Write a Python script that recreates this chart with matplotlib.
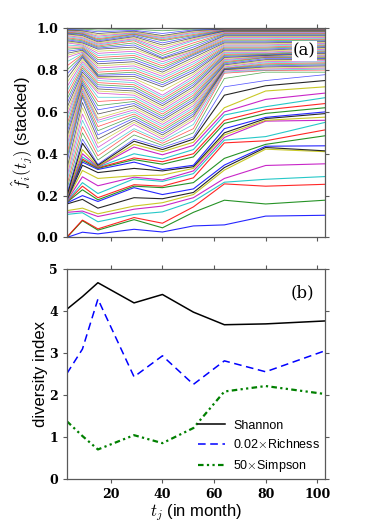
import matplotlib
matplotlib.use("Agg")
import matplotlib.pyplot as plt
import numpy as np

plt.rcParams['mathtext.fontset'] = 'cm'
plt.rcParams['font.family'] = ['Liberation Sans', 'DejaVu Sans']

# sampling times (month)
t_month = [3, 9, 15, 29, 40, 52, 64, 80, 103]

# cumulative (stacked) relative abundance, one list per sampling time,
# read from bottom line to top line
cum_t03 = [0.000, 0.000, 0.002, 0.110, 0.120, 0.128, 0.160, 0.165, 0.168, 0.170,
           0.172, 0.175, 0.178, 0.180, 0.182, 0.185, 0.188, 0.190, 0.193, 0.196, 0.200,
           0.21, 0.23, 0.25, 0.27, 0.29, 0.31, 0.33, 0.36, 0.38, 0.40,
           0.42, 0.44, 0.46, 0.48, 0.50, 0.52, 0.54, 0.56, 0.58, 0.60,
           0.62, 0.64, 0.66, 0.68, 0.70, 0.72, 0.74, 0.76, 0.78, 0.80,
           0.82, 0.84, 0.86, 0.87, 0.88, 0.89, 0.90, 0.91, 0.92, 0.93,
           0.935, 0.94, 0.945, 0.95, 0.955, 0.96, 0.965, 0.97, 0.973, 0.976,
           0.979, 0.982, 0.985, 0.988, 0.99, 0.992, 0.995, 0.998, 1.0]
cum_t09 = [0.025, 0.080, 0.083, 0.118, 0.126, 0.140, 0.182, 0.200, 0.228, 0.245,
           0.262, 0.290, 0.320, 0.345, 0.360, 0.368, 0.375, 0.385, 0.400, 0.420, 0.450,
           0.47, 0.50, 0.53, 0.56, 0.59, 0.62, 0.645, 0.67, 0.68, 0.69,
           0.70, 0.71, 0.72, 0.73, 0.74, 0.75, 0.76, 0.77, 0.775, 0.78,
           0.79, 0.80, 0.81, 0.82, 0.83, 0.84, 0.85, 0.86, 0.865, 0.87,
           0.875, 0.88, 0.885, 0.89, 0.895, 0.90, 0.905, 0.91, 0.915, 0.92,
           0.925, 0.93, 0.935, 0.94, 0.945, 0.95, 0.955, 0.96, 0.965, 0.97,
           0.973, 0.976, 0.979, 0.982, 0.985, 0.988, 0.992, 0.996, 1.0]
cum_t15 = [0.017, 0.035, 0.041, 0.075, 0.100, 0.113, 0.140, 0.172, 0.180, 0.190,
           0.210, 0.247, 0.282, 0.310, 0.325, 0.330, 0.333, 0.336, 0.338, 0.340, 0.345,
           0.35, 0.37, 0.39, 0.41, 0.43, 0.45, 0.47, 0.49, 0.51, 0.53,
           0.55, 0.56, 0.57, 0.59, 0.61, 0.63, 0.65, 0.67, 0.69, 0.70,
           0.71, 0.72, 0.73, 0.74, 0.75, 0.76, 0.765, 0.77, 0.775, 0.78,
           0.79, 0.80, 0.81, 0.82, 0.83, 0.84, 0.85, 0.86, 0.87, 0.88,
           0.89, 0.90, 0.905, 0.91, 0.915, 0.92, 0.925, 0.93, 0.935, 0.94,
           0.945, 0.95, 0.956, 0.962, 0.968, 0.975, 0.983, 0.991, 1.0]
cum_t29 = [0.039, 0.085, 0.095, 0.110, 0.135, 0.150, 0.190, 0.238, 0.245, 0.252,
           0.280, 0.288, 0.295, 0.330, 0.360, 0.372, 0.380, 0.400, 0.432, 0.445, 0.460,
           0.47, 0.49, 0.51, 0.52, 0.54, 0.55, 0.56, 0.57, 0.58, 0.59,
           0.60, 0.61, 0.62, 0.63, 0.64, 0.65, 0.66, 0.67, 0.68, 0.69,
           0.70, 0.71, 0.72, 0.73, 0.74, 0.75, 0.76, 0.77, 0.78, 0.79,
           0.80, 0.81, 0.82, 0.83, 0.84, 0.85, 0.86, 0.87, 0.88, 0.89,
           0.90, 0.91, 0.92, 0.93, 0.94, 0.945, 0.95, 0.955, 0.96, 0.965,
           0.97, 0.973, 0.976, 0.979, 0.982, 0.986, 0.99, 0.995, 1.0]
cum_t40 = [0.026, 0.046, 0.068, 0.122, 0.150, 0.166, 0.185, 0.205, 0.238, 0.245,
           0.268, 0.275, 0.298, 0.318, 0.325, 0.350, 0.362, 0.375, 0.395, 0.410, 0.420,
           0.43, 0.44, 0.45, 0.46, 0.47, 0.48, 0.49, 0.50, 0.51, 0.52,
           0.53, 0.54, 0.55, 0.56, 0.57, 0.58, 0.59, 0.60, 0.61, 0.62,
           0.63, 0.64, 0.65, 0.66, 0.67, 0.68, 0.70, 0.72, 0.73, 0.74,
           0.75, 0.76, 0.77, 0.78, 0.79, 0.80, 0.81, 0.82, 0.83, 0.84,
           0.85, 0.855, 0.86, 0.87, 0.88, 0.89, 0.90, 0.91, 0.92, 0.93,
           0.94, 0.945, 0.95, 0.955, 0.96, 0.965, 0.975, 0.988, 1.0]
cum_t52 = [0.055, 0.120, 0.146, 0.172, 0.190, 0.205, 0.215, 0.232, 0.262, 0.285,
           0.305, 0.318, 0.330, 0.338, 0.345, 0.385, 0.400, 0.420, 0.440, 0.455, 0.470,
           0.48, 0.50, 0.52, 0.54, 0.56, 0.57, 0.58, 0.59, 0.60, 0.61,
           0.62, 0.63, 0.64, 0.65, 0.66, 0.67, 0.68, 0.69, 0.70, 0.71,
           0.72, 0.73, 0.74, 0.75, 0.76, 0.77, 0.78, 0.79, 0.80, 0.81,
           0.82, 0.83, 0.84, 0.85, 0.86, 0.87, 0.875, 0.88, 0.885, 0.89,
           0.895, 0.90, 0.91, 0.92, 0.93, 0.94, 0.945, 0.95, 0.955, 0.96,
           0.965, 0.97, 0.975, 0.98, 0.984, 0.988, 0.992, 0.996, 1.0]
cum_t64 = [0.060, 0.178, 0.256, 0.264, 0.282, 0.322, 0.334, 0.346, 0.378, 0.452,
           0.465, 0.478, 0.490, 0.500, 0.520, 0.545, 0.560, 0.585, 0.600, 0.620,
           0.680, 0.720, 0.760, 0.785,
           0.79, 0.795, 0.80, 0.802, 0.804, 0.806, 0.808, 0.81, 0.815, 0.82,
           0.825, 0.83, 0.835, 0.84, 0.845, 0.85, 0.855, 0.86, 0.865, 0.87,
           0.875, 0.88, 0.885, 0.89, 0.895, 0.90, 0.905, 0.91, 0.915, 0.92,
           0.925, 0.93, 0.935, 0.94, 0.945, 0.95, 0.955, 0.96, 0.964, 0.968,
           0.972, 0.975, 0.978, 0.981, 0.984, 0.986, 0.988, 0.99, 0.992, 0.994,
           0.995, 0.996, 0.997, 0.998, 0.999, 1.0]
cum_t80 = [0.102, 0.160, 0.245, 0.278, 0.344, 0.422, 0.430, 0.436, 0.445, 0.462,
           0.482, 0.556, 0.560, 0.568, 0.574, 0.593, 0.610, 0.625, 0.660, 0.700,
           0.725, 0.750, 0.790, 0.798,
           0.80, 0.805, 0.81, 0.815, 0.82, 0.825, 0.83, 0.835, 0.84, 0.845,
           0.85, 0.855, 0.86, 0.862, 0.864, 0.866, 0.868, 0.87, 0.872, 0.875,
           0.878, 0.88, 0.885, 0.89, 0.895, 0.90, 0.905, 0.91, 0.915, 0.92,
           0.925, 0.93, 0.935, 0.94, 0.945, 0.95, 0.955, 0.96, 0.964, 0.968,
           0.972, 0.975, 0.978, 0.981, 0.984, 0.986, 0.988, 0.99, 0.992, 0.994,
           0.995, 0.996, 0.997, 0.998, 0.999, 1.0]
cum_t103 = [0.106, 0.178, 0.254, 0.291, 0.352, 0.410, 0.414, 0.438, 0.486, 0.514,
            0.550, 0.560, 0.575, 0.592, 0.600, 0.620, 0.640, 0.668, 0.690, 0.720,
            0.750, 0.778, 0.790, 0.800,
            0.805, 0.81, 0.815, 0.82, 0.825, 0.83, 0.835, 0.84, 0.845, 0.85,
            0.853, 0.856, 0.86, 0.864, 0.868, 0.872, 0.876, 0.88, 0.884, 0.888,
            0.892, 0.896, 0.90, 0.904, 0.908, 0.912, 0.916, 0.92, 0.924, 0.928,
            0.932, 0.936, 0.94, 0.944, 0.948, 0.952, 0.956, 0.96, 0.964, 0.968,
            0.972, 0.975, 0.978, 0.981, 0.984, 0.986, 0.988, 0.99, 0.992, 0.994,
            0.995, 0.996, 0.997, 0.998, 0.999, 1.0]

# diversity indices
shannon = [4.05, 4.35, 4.68, 4.20, 4.40, 3.98, 3.68, 3.70, 3.77]
richness_scaled = [2.52, 3.10, 4.29, 2.44, 2.94, 2.26, 2.82, 2.56, 3.06]
simpson_scaled = [1.38, 1.03, 0.71, 1.05, 0.86, 1.22, 2.09, 2.22, 2.03]

line_colors = ['b', 'g', 'r', 'c', 'm', 'y', 'k']

cum = np.array([cum_t03, cum_t09, cum_t15, cum_t29, cum_t40,
                cum_t52, cum_t64, cum_t80, cum_t103]).T

fig = plt.figure(figsize=(3.74, 5.23), dpi=100)
ax1 = fig.add_axes([0.179, 0.546, 0.690, 0.400])
ax2 = fig.add_axes([0.179, 0.0836, 0.690, 0.4015])

for i, row in enumerate(cum):
    if i < 21:
        ax1.plot(t_month, row, color=line_colors[i % 7], lw=0.8, alpha=0.85)
    else:
        ax1.plot(t_month, row, color=line_colors[i % 7], lw=0.55, alpha=0.65)

ax2.plot(t_month, shannon, color='k', lw=1.1, label='Shannon')
ax2.plot(t_month, richness_scaled, color='b', lw=1.1, ls=(0, (5, 3)),
         label=r'0.02$\times$Richness')
ax2.plot(t_month, simpson_scaled, color='g', lw=1.6,
         ls=(0, (2.5, 1.5, 1, 1.5, 1, 1.5)), label=r'50$\times$Simpson')

for ax in (ax1, ax2):
    ax.set_xlim(3, 103)
    ax.set_xticks([20, 40, 60, 80, 100])
    ax.tick_params(direction='out', length=3, width=0.8, top=True, right=True,
                   labelsize=9, colors='0.35', labelcolor='k')
    for s in ax.spines.values():
        s.set_color('0.35')
        s.set_linewidth(0.9)

ax1.set_ylim(0, 1)
ax1.set_yticks([0, 0.2, 0.4, 0.6, 0.8, 1.0])
ax1.set_yticklabels(['%.1f' % v for v in ax1.get_yticks()])
ax1.set_xticklabels([])
ax1.set_ylabel(r'$\hat{f}_i(t_j)$ (stacked)', fontsize=12, labelpad=1)
ax1.text(0.965, 0.89, '(a)', transform=ax1.transAxes, ha='right', va='center',
         fontsize=12, family='DejaVu Serif',
         bbox=dict(facecolor='white', edgecolor='none', pad=1))

ax2.set_ylim(0, 5)
ax2.set_yticks([0, 1, 2, 3, 4, 5])
ax2.set_yticklabels(['%d' % v for v in ax2.get_yticks()])
ax2.set_xticklabels(['%d' % v for v in ax2.get_xticks()])
ax2.set_ylabel('diversity index', fontsize=12, labelpad=1)
ax2.set_xlabel(r'$t_j$ (in month)', fontsize=12, labelpad=1)
ax2.text(0.96, 0.89, '(b)', transform=ax2.transAxes, ha='right', va='center',
         fontsize=12, family='DejaVu Serif')
ax2.legend(loc='lower right', frameon=False, fontsize=9, handlelength=2.2,
           borderaxespad=0.0, labelspacing=0.55, handletextpad=0.6)

for lab in ax1.get_yticklabels() + ax2.get_yticklabels() + ax2.get_xticklabels():
    lab.set_family('DejaVu Serif')
    lab.set_weight('bold')

fig.savefig('out.png', dpi=100)
